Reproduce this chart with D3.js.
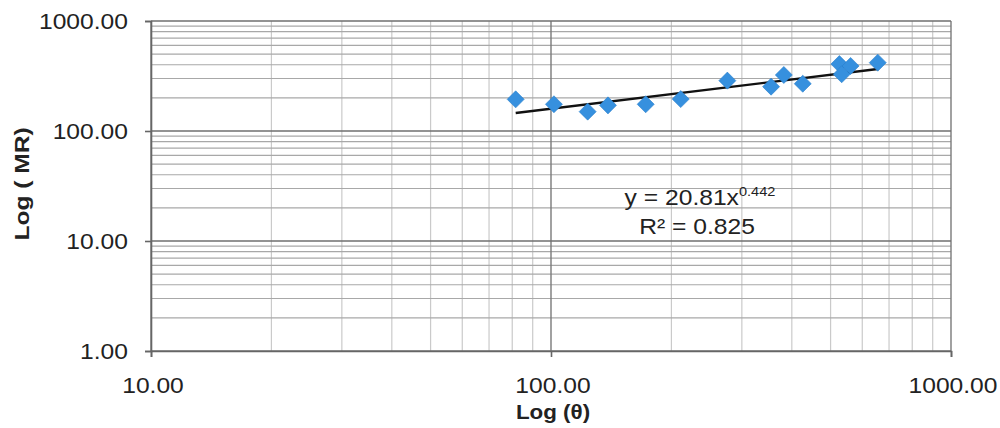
<!DOCTYPE html>
<html>
<head>
<meta charset="utf-8">
<script src="https://cdn.jsdelivr.net/npm/d3@7"></script>
<style>
html,body{margin:0;padding:0;background:#fff;}
svg{display:block;}
text{font-family:"Liberation Sans",Arial,sans-serif;fill:#222;}
</style>
</head>
<body>
<svg id="chart" width="1000" height="428"></svg>
<script>
// Data
const thetaValues = [81.6, 101.7, 123.5, 138.8, 172.5, 211, 276, 355, 382, 426, 526, 533, 561, 656];
const mrValues    = [194, 175, 150, 171, 175, 195, 287, 253, 323, 269, 406, 328, 390, 418];
const xTickValues = [10, 100, 1000];
const yTickValues = [1, 10, 100, 1000];
const trendCoef = [20.81, 0.442];   // y = a * x^b
const equationMain = "y = 20.81x";
const equationExp = "0.442";
const rSquaredText = "R² = 0.825";
const xTitle = "Log (θ)";
const yTitle = "Log ( MR)";

const svg = d3.select("#chart");
const L = 151, R = 951, T = 21, B = 351;
const SX = 1.12; // horizontal stretch of text (scanned image)

const x = d3.scaleLog().domain([10, 1000]).range([L, R]);
const y = d3.scaleLog().domain([1, 1000]).range([B, T]);

function txt(g, tx, ty, s, opts = {}) {
  return g.append("text")
    .attr("transform", `translate(${tx},${ty}) scale(${SX},1)`)
    .attr("text-anchor", opts.anchor || "middle")
    .attr("font-size", opts.size || 22)
    .attr("font-weight", opts.weight || "normal")
    .text(s);
}

// Minor gridlines
const minorX = [], minorY = [];
for (let d = 10; d < 1000; d *= 10) for (let k = 2; k <= 9; k++) minorX.push(d * k);
for (let d = 1; d < 1000; d *= 10) for (let k = 2; k <= 9; k++) minorY.push(d * k);

const grid = svg.append("g");
grid.selectAll(".mx").data(minorX).join("line")
  .attr("x1", d => x(d)).attr("x2", d => x(d)).attr("y1", T).attr("y2", B)
  .attr("stroke", "#cacaca").attr("stroke-width", 1.2);
grid.selectAll(".my").data(minorY).join("line")
  .attr("x1", L).attr("x2", R).attr("y1", d => y(d)).attr("y2", d => y(d))
  .attr("stroke", "#a8a8a8").attr("stroke-width", 1.2);
// Major gridlines
grid.selectAll(".Mx").data(xTickValues).join("line")
  .attr("x1", d => x(d)).attr("x2", d => x(d)).attr("y1", T).attr("y2", B)
  .attr("stroke", "#7a7a7a").attr("stroke-width", 1.4);
grid.selectAll(".My").data(yTickValues).join("line")
  .attr("x1", L).attr("x2", R).attr("y1", d => y(d)).attr("y2", d => y(d))
  .attr("stroke", "#6f6f6f").attr("stroke-width", 1.6);

// Axes
const yAxis = d3.axisLeft(y).tickValues(yTickValues).tickSize(6).tickFormat("");
const xAxis = d3.axisBottom(x).tickValues(xTickValues).tickSize(6).tickFormat("");
const gy = svg.append("g").attr("transform", `translate(${L},0)`).call(yAxis);
const gx = svg.append("g").attr("transform", `translate(0,${B})`).call(xAxis);
[gy, gx].forEach(g => {
  g.select(".domain").attr("stroke", "#666").attr("stroke-width", 1.6);
  g.selectAll(".tick line").attr("stroke", "#666").attr("stroke-width", 1.6);
});

// Tick labels
const labels = svg.append("g");
yTickValues.forEach(v => {
  txt(labels, 128, y(v) + 8, v.toFixed(2), {anchor: "end"});
});
xTickValues.forEach(v => {
  txt(labels, x(v) + 2, 393, v.toFixed(2));
});

// Axis titles
txt(labels, x(100) + 2, 419, xTitle, {weight: "bold", size: 20});
svg.append("text")
  .attr("transform", `translate(29,184) rotate(-90) scale(${SX + 0.05},1)`)
  .attr("text-anchor", "middle").attr("font-size", 21).attr("font-weight", "bold")
  .text(yTitle);

// Trendline (from the fitted power law, across data range)
const xmin = d3.min(thetaValues), xmax = d3.max(thetaValues);
const trendPts = [xmin, xmax].map(v => [v, trendCoef[0] * Math.pow(v, trendCoef[1])]);
svg.append("path")
  .attr("d", d3.line().x(d => x(d[0])).y(d => y(d[1]))(trendPts))
  .attr("stroke", "#111").attr("stroke-width", 2.4).attr("fill", "none");

// Markers (diamonds)
const pts = thetaValues.map((t, i) => [t, mrValues[i]]);
svg.append("g").selectAll("path").data(pts).join("path")
  .attr("transform", d => `translate(${x(d[0])},${y(d[1])})`)
  .attr("d", d3.symbol().type(d3.symbolDiamond2).size(185))
  .attr("fill", "#3690de").attr("stroke", "#2a7fcc").attr("stroke-width", 0.6);

// Equation
const eq = svg.append("text")
  .attr("transform", `translate(700,205) scale(${SX},1)`)
  .attr("text-anchor", "middle").attr("font-size", 22);
eq.append("tspan").text(equationMain);
eq.append("tspan").attr("font-size", 13).attr("dy", -9).text(equationExp);
txt(svg, 697, 234, rSquaredText);
</script>
</body>
</html>
